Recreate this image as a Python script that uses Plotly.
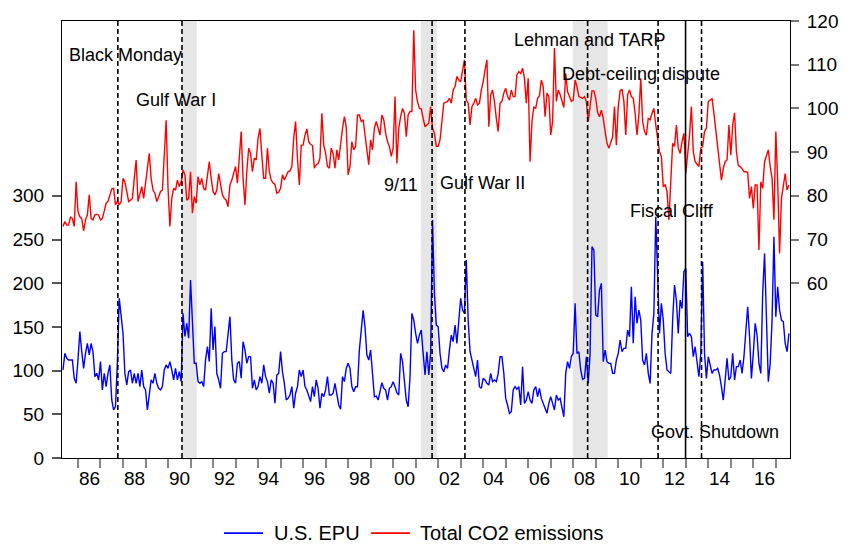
import plotly.graph_objects as go

# ---------------- data ----------------
start_year = 1985 + 4 / 12  # first observation: May 1985 (monthly)

co2 = [
    73.0, 74.1, 73.3, 73.3, 75.2, 74.8, 73.0, 83.2, 76.4, 75.2,
    74.8, 72.0, 74.5, 75.6, 80.2, 74.8, 74.5, 75.6, 75.8, 75.6,
    74.5, 74.8, 76.5, 78.3, 78.7, 80.2, 81.6, 81.7, 77.9, 78.8,
    77.9, 78.7, 84.0, 83.2, 81.0, 78.7, 79.0, 79.4, 84.0, 88.2,
    78.7, 80.2, 82.1, 79.4, 82.5, 85.5, 89.7, 84.0, 81.3, 80.6,
    78.7, 79.8, 81.0, 81.3, 88.6, 97.3, 81.7, 73.0, 79.4, 81.7,
    81.3, 83.6, 82.1, 83.2, 85.9, 84.8, 79.0, 79.4, 85.5, 76.0,
    79.8, 78.3, 84.4, 82.5, 84.0, 81.7, 81.3, 84.8, 87.8,
    84.0, 81.0, 80.2, 81.3, 85.1, 82.1, 80.2, 79.4, 79.0, 77.5,
    82.5, 83.6, 85.5, 86.7, 82.9, 90.1, 94.7, 84.0, 77.9, 85.5,
    90.9, 89.7, 85.5, 88.6, 88.2, 93.2, 95.4, 89.3, 84.0, 84.0,
    90.9, 85.5, 83.6, 82.9, 82.6, 80.6, 80.8, 81.7, 84.8, 83.6,
    84.8, 85.5, 85.7, 86.7, 93.2, 97.0, 88.6, 82.5, 91.6, 91.6,
    93.9, 95.3, 92.4, 91.8, 91.5, 86.3, 87.1, 87.4, 88.6, 98.9,
    91.6, 89.7, 86.7, 86.3, 90.9, 89.7, 86.3, 90.5, 88.2, 92.4,
    95.4, 98.1, 95.8, 84.8, 86.7, 92.4, 90.5,
    91.3, 98.5, 98.5, 97.0, 97.4, 94.3, 90.1, 87.1, 92.8, 90.5,
    95.5, 97.0, 95.5, 93.9, 98.5, 97.4, 94.3, 92.4, 91.3, 89.0,
    90.9, 102.7, 87.4, 95.5, 98.1, 100.0, 98.9, 93.5, 98.5, 99.3,
    99.3, 117.9, 104.2, 101.5, 100.0, 99.9, 97.7, 95.8, 96.2, 96.6,
    100.4, 95.5, 94.3, 91.3, 91.3, 92.8, 97.0, 101.2, 101.4, 101.6,
    102.3, 101.2, 104.2, 105.0, 107.3, 106.5, 106.1, 109.2, 111.1, 101.9,
    101.2, 96.2, 100.4, 101.2, 102.3, 100.8, 101.2, 104.2, 106.1, 108.8,
    111.1, 95.8, 103.1, 104.2, 101.6, 97.7, 94.7,
    101.2, 101.6, 103.5, 104.6, 102.7, 101.9, 104.2, 102.7, 102.7, 107.7,
    108.4, 108.0, 109.2, 106.9, 101.2, 106.9, 87.8, 97.0, 100.4, 100.0,
    102.3, 102.9, 106.5, 105.0, 98.1, 103.5, 102.7, 93.9, 97.0, 113.8,
    101.6, 104.2, 103.2, 101.9, 100.2, 108.0, 103.8, 102.7, 101.6, 101.9,
    106.5, 105.0, 102.7, 102.5, 102.3, 102.7, 101.6, 97.0, 100.8, 104.0,
    104.0, 102.3, 99.1, 98.1, 99.6, 97.7, 94.7, 92.0, 90.9, 92.4,
    93.5, 100.4, 91.6, 100.4, 104.0, 104.4, 101.6, 93.9, 103.1, 104.2,
    102.7, 102.3, 98.9, 93.9, 98.5, 106.9, 97.0, 94.7,
    93.9, 97.7, 97.4, 98.9, 100.0, 96.2, 92.4, 90.1, 89.0, 82.1,
    82.5, 81.0, 74.5, 84.8, 92.0, 91.3, 96.2, 90.9, 89.7, 92.4,
    94.3, 85.1, 89.3, 93.9, 100.4, 90.1, 87.8, 87.1, 86.7, 90.9,
    91.3, 94.7, 95.5, 101.6, 101.9, 102.2, 98.9, 94.7, 90.9, 87.1,
    83.6, 86.3, 87.8, 88.2, 96.2, 89.3, 96.2, 99.0, 90.1, 86.9,
    86.7, 86.2, 85.5, 85.5, 85.4, 79.4, 82.1, 77.1, 82.5, 82.5,
    67.6, 83.2, 81.7, 87.8, 89.3, 90.5, 86.7, 84.0, 74.5, 94.7,
    83.2, 66.8, 79.4, 82.9, 85.1, 81.3, 82.5,
]

epu = [
    100.7, 119.8, 114.1, 112.2, 112.2, 112.2, 91.2, 85.5, 112.2, 144.6,
    121.7, 102.6, 119.8, 131.2, 117.9, 131.2, 121.7, 93.1, 96.9, 89.3,
    110.3, 77.9, 96.9, 81.7, 96.9, 106.5, 66.4, 55.0, 58.8, 110.0,
    182.7, 161.7, 142.7, 96.9, 83.6, 98.8, 100.7, 85.5, 96.9, 85.5,
    96.9, 81.7, 100.7, 81.7, 77.9, 55.0, 74.1, 89.3, 85.5, 96.9,
    85.5, 79.8, 77.9, 81.7, 100.7, 106.5, 102.6, 110.3, 100.7, 89.3,
    102.6, 89.3, 98.8, 87.4, 165.6, 139.0, 154.1, 137.0, 203.7, 150.3,
    108.4, 108.4, 87.4, 85.5, 87.4, 81.7, 112.2, 127.4, 110.3,
    171.3, 123.6, 150.3, 96.9, 89.3, 79.8, 119.8, 121.7, 121.7, 142.7,
    161.7, 112.2, 89.3, 85.5, 108.4, 110.3, 91.2, 133.1, 123.6, 108.4,
    116.0, 116.0, 79.8, 89.3, 77.9, 81.7, 93.1, 85.5, 106.5, 93.1,
    87.4, 74.1, 89.3, 85.5, 62.6, 95.0, 96.9, 121.7, 98.8, 85.5,
    66.4, 68.3, 72.1, 81.7, 56.9, 74.1, 81.7, 100.7, 93.1, 100.7,
    81.7, 77.9, 72.1, 64.5, 81.7, 70.2, 89.3, 79.8, 56.9, 74.1,
    70.2, 77.9, 93.1, 72.1, 72.1, 74.1, 85.5, 74.1, 60.7, 55.7,
    93.1, 87.4, 102.6, 108.4, 102.6, 81.7, 75.9,
    81.6, 81.6, 123.5, 148.3, 169.0, 150.0, 117.8, 112.1, 123.5, 96.8,
    70.1, 70.9, 66.3, 75.9, 86.1, 79.7, 77.8, 66.3, 79.7, 81.6,
    87.3, 81.6, 74.7, 72.1, 119.7, 110.2, 85.4, 66.3, 58.7, 93.0,
    165.5, 157.8, 142.6, 131.2, 140.7, 146.4, 119.7, 94.9, 121.6, 94.9,
    120.0, 272.3, 188.4, 152.1, 150.2, 119.7, 102.6, 98.7, 106.4, 102.6,
    123.5, 140.7, 133.1, 152.1, 131.2, 161.7, 182.6, 169.3, 165.5, 226.5,
    157.8, 121.6, 112.1, 106.4, 93.0, 112.1, 81.6, 79.7, 91.1, 89.2,
    85.4, 83.5, 96.8, 87.3, 89.2, 87.3, 96.8,
    115.9, 115.9, 96.8, 68.2, 60.6, 51.1, 53.0, 77.8, 81.6, 78.5,
    81.6, 60.6, 104.5, 62.5, 66.3, 75.9, 66.3, 62.5, 77.8, 81.6,
    70.1, 79.7, 68.2, 62.5, 56.8, 51.1, 62.5, 70.1, 62.5, 54.9,
    72.1, 66.3, 68.2, 56.8, 47.2, 96.8, 110.2, 102.6, 115.9, 119.7,
    176.9, 119.7, 121.6, 100.7, 90.0, 91.1, 115.9, 85.4, 119.7, 241.8,
    237.9, 163.6, 161.7, 192.2, 199.8, 110.2, 123.5, 110.2, 108.3, 108.3,
    96.8, 96.8, 112.1, 119.7, 135.0, 121.6, 125.4, 125.4, 146.4, 138.8,
    196.0, 131.2, 184.5, 154.0, 169.3, 157.8, 112.1, 106.4,
    119.7, 96.8, 85.4, 142.6, 165.5, 276.1, 203.6, 142.6, 176.9, 157.8,
    119.7, 100.7, 98.7, 96.8, 157.8, 197.9, 180.7, 142.6, 180.7, 171.2,
    213.2, 217.0, 138.8, 142.6, 138.8, 115.9, 127.3, 108.3, 93.0, 119.7,
    224.6, 119.7, 91.1, 115.9, 104.5, 96.8, 100.7, 100.7, 102.6, 94.9,
    81.6, 66.3, 89.2, 114.0, 89.2, 93.0, 119.7, 89.2, 104.5, 104.5,
    112.1, 96.8, 115.9, 150.2, 173.1, 138.8, 91.1, 119.7, 154.0, 140.7,
    108.3, 96.8, 188.4, 234.1, 157.8, 87.3, 108.3, 157.8, 253.2, 161.7,
    196.0, 169.3, 157.8, 155.9, 131.2, 121.6, 142.6,
]

series_names = ["U.S. EPU", "Total CO2 emissions"]
series_colors = ["#0000FF", "#FF0000"]

event_names = ["Black Monday", "Gulf War I", "9/11", "Gulf War II",
               "Lehman and TARP", "Debt-ceiling dispute", "Fiscal Cliff",
               "Govt. Shutdown"]
event_dates = [1987.77, 1990.62, 2001.73, 2003.19, 2008.64, 2011.77, 2012.99, 2013.70]
event_dash = ["dash", "dash", "dash", "dash", "dash", "dash", "solid", "dash"]
label_x = [1988.11, 1990.35, 2000.35, 2003.97, 2008.72, 2011.00, 2012.40, 2014.31]
label_y = [461, 410, 312, 315, 478, 439, 283, 30]   # in EPU-axis units

recessions = [(1990.62, 1991.28), (2001.23, 2001.94), (2007.98, 2009.53)]

year_ticks = list(range(1986, 2018))
label_years = list(range(1986, 2017, 2))
year_labels = ["%02d" % (y % 100) for y in label_years]

left_ticks = [0, 50, 100, 150, 200, 250, 300]
right_ticks = [60, 70, 80, 90, 100, 110, 120]

# ---------------- figure ----------------
n = min(len(co2), len(epu))
dates = [start_year + i / 12 for i in range(n)]

FONT = "Liberation Sans, Arial, sans-serif"

fig = go.Figure()
fig.add_trace(go.Scatter(x=dates, y=epu[:n], name=series_names[0], mode="lines",
                         line=dict(color=series_colors[0], width=1.4), yaxis="y",
                         showlegend=False))
fig.add_trace(go.Scatter(x=dates, y=co2[:n], name=series_names[1], mode="lines",
                         line=dict(color=series_colors[1], width=1.4), yaxis="y2",
                         showlegend=False))

shapes = []
for a, b in recessions:
    shapes.append(dict(type="rect", xref="x", yref="paper", x0=a, x1=b, y0=0, y1=1,
                       fillcolor="#E6E6E6", line=dict(width=0), layer="below"))
for d, ds in zip(event_dates, event_dash):
    shapes.append(dict(type="line", xref="x", yref="paper", x0=d, x1=d, y0=0, y1=1,
                       line=dict(color="black", width=1.6,
                                 dash=("5px,3px" if ds == "dash" else "solid")),
                       layer="above"))

annotations = []
for name, lx, ly in zip(event_names, label_x, label_y):
    annotations.append(dict(text=name, x=lx, y=ly, xref="x", yref="y",
                            showarrow=False, xanchor="center", yanchor="middle",
                            font=dict(size=18, color="black", family=FONT)))
for y, lab in zip(label_years, year_labels):
    annotations.append(dict(text=lab, x=y + 0.5, y=-0.046, xref="x", yref="paper",
                            showarrow=False, xanchor="center", yanchor="middle",
                            font=dict(size=19, color="black", family=FONT)))

# manual legend (key line + label) below the plot
legend_keys = [(0.2225, 0.2761, 0.2885), (0.4245, 0.4780, 0.4890)]
legend_y = -0.172
for (k0, k1, tx), nm, col in zip(legend_keys, series_names, series_colors):
    shapes.append(dict(type="line", xref="paper", yref="paper", x0=k0, x1=k1,
                       y0=legend_y, y1=legend_y, line=dict(color=col, width=1.6)))
    annotations.append(dict(text=nm, x=tx, y=legend_y, xref="paper", yref="paper",
                            showarrow=False, xanchor="left", yanchor="middle",
                            font=dict(size=20, color="black", family=FONT)))

fig.update_layout(
    width=843, height=537,
    margin=dict(l=54, r=61, t=13, b=87, autoexpand=False),
    paper_bgcolor="white", plot_bgcolor="white",
    font=dict(family=FONT, size=19, color="black"),
    shapes=shapes, annotations=annotations,
    showlegend=False,
    xaxis=dict(range=[1985.29, 2017.63], tickmode="array", tickvals=year_ticks,
               showticklabels=False, ticks="outside", ticklen=9, tickwidth=1.5,
               tickcolor="#888888", showline=True, linecolor="black", linewidth=1.2,
               mirror=True, showgrid=False, zeroline=False, automargin=False),
    yaxis=dict(range=[0, 500], tickmode="array", tickvals=left_ticks,
               ticks="outside", ticklen=9, tickwidth=1.5, tickcolor="#555555",
               showline=True, linecolor="black", linewidth=1.2, mirror=True,
               showgrid=False, zeroline=False, ticklabelstandoff=4,
               tickfont=dict(size=19), automargin=False),
    yaxis2=dict(range=[20, 120], tickmode="array", tickvals=right_ticks,
                overlaying="y", side="right", ticks="outside", ticklen=8,
                tickwidth=1.5, tickcolor="#777777", showline=False,
                showgrid=False, zeroline=False, ticklabelstandoff=4,
                tickfont=dict(size=19), automargin=False),
)

fig.write_html("out.html")
